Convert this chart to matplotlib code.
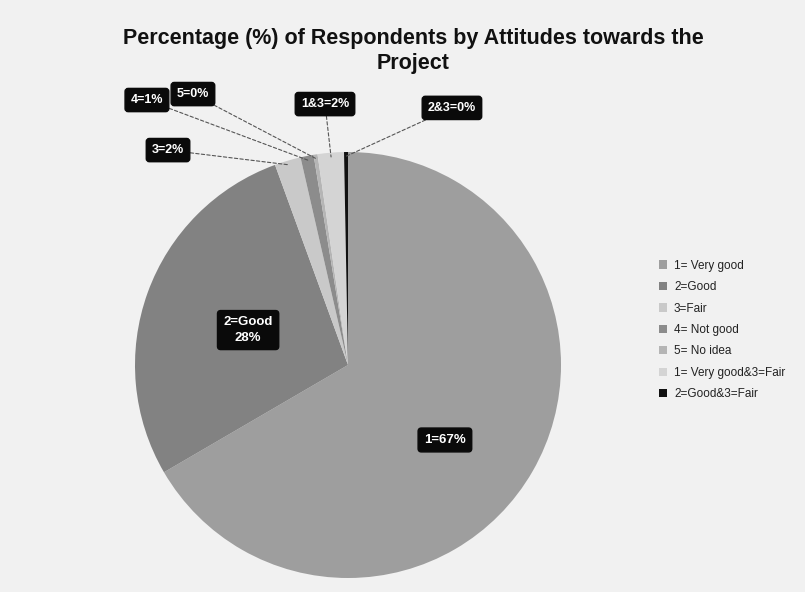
import matplotlib
matplotlib.use("Agg")
import matplotlib.pyplot as plt
import numpy as np

plt.rcParams['font.family'] = ['Liberation Sans', 'DejaVu Sans']

# Survey results (percentage of respondents)
categories = ["1= Very good", "2=Good", "3=Fair", "4= Not good", "5= No idea",
              "1= Very good&3=Fair", "2=Good&3=Fair"]
values = [67, 28, 2, 1, 0.3, 2, 0.3]
slice_labels = ["1=67%", "2=Good\n28%", "3=2%", "4=1%", "5=0%", "1&3=2%", "2&3=0%"]
colors = ["#9e9e9e", "#828282", "#c9c9c9", "#8c8c8c", "#b5b5b5", "#d4d4d4", "#111111"]

W, H = 805, 592
fig = plt.figure(figsize=(W / 100, H / 100), dpi=100)
fig.patch.set_facecolor("#f1f1f1")

cx, cy, r = 348, 365, 213
ax = fig.add_axes([(cx - r) / W, (H - cy - r) / H, 2 * r / W, 2 * r / H])
ax.set_facecolor("none")

wedges, _ = ax.pie(values, colors=colors, startangle=90, counterclock=False,
                   wedgeprops=dict(linewidth=0))
ax.set_xlim(-1, 1)
ax.set_ylim(-1, 1)
ax.set_aspect("equal")
ax.axis("off")

# label positions in pie coordinates (unit radius)
label_pos = [(0.455, -0.352), (-0.469, 0.164), (-0.845, 1.009), (-0.944, 1.244),
             (-0.728, 1.272), (-0.108, 1.225), (0.488, 1.207)]
box = dict(boxstyle="round,pad=0.45,rounding_size=0.25", fc="#0a0a0a", ec="#0a0a0a")

for i, (w, lab, pos) in enumerate(zip(wedges, slice_labels, label_pos)):
    ang = np.deg2rad((w.theta1 + w.theta2) / 2)
    edge = (0.98 * np.cos(ang), 0.98 * np.sin(ang))
    if i >= 2:
        ax.annotate(lab, xy=edge, xytext=pos, ha="center", va="center",
                    fontsize=9, fontweight="bold", color="white", bbox=box,
                    annotation_clip=False,
                    arrowprops=dict(arrowstyle="-", color="#555555", lw=0.8,
                                    linestyle=(0, (3, 2)), shrinkA=0, shrinkB=0))
    else:
        ax.text(pos[0], pos[1], lab, ha="center", va="center", fontsize=9.5,
                fontweight="bold", color="white", bbox=box, linespacing=1.35)

fig.text(413 / W, 1 - 51 / H,
         "Percentage (%) of Respondents by Attitudes towards the\nProject",
         ha="center", va="center", fontsize=15.5, fontweight="bold",
         color="#111111", linespacing=1.2)

leg = fig.legend(wedges, categories, loc="center left",
                 bbox_to_anchor=(648 / W, 1 - 330 / H), frameon=False,
                 fontsize=8.5, handlelength=0.7, handleheight=0.7,
                 handletextpad=0.6, labelspacing=0.8)
for t in leg.get_texts():
    t.set_color("#222222")

fig.savefig("out.png", dpi=100, facecolor=fig.get_facecolor())
